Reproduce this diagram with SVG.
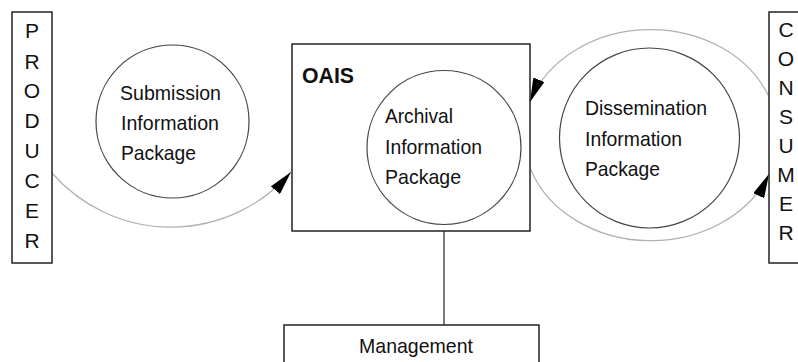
<svg xmlns="http://www.w3.org/2000/svg" width="798" height="362" viewBox="0 0 798 362">
<defs>
<style>
.box{fill:#fff;stroke:#222;stroke-width:1.5}
.pkg{fill:#fff;stroke:#444;stroke-width:1.2}
.flow{fill:none;stroke:#b0b0b0;stroke-width:1.2}
.link{stroke:#333;stroke-width:1.3}
text{font-family:"Liberation Sans",Arial,sans-serif;font-size:21px;fill:#111}
.v{text-anchor:middle;font-size:21px}
.b{font-weight:bold;font-size:22px}
</style>
<marker id="arr" viewBox="0 0 24 12" refX="24" refY="6" markerWidth="24" markerHeight="12" markerUnits="userSpaceOnUse" orient="auto">
<path d="M0,0 L24,6 L0,12 z" fill="#000"/>
</marker>
</defs>
<rect width="798" height="362" fill="#fff"/>
<g id="connectors">
<path class="flow" d="M52,173 A158,158 0 0 0 291,172" marker-end="url(#arr)"/>
<path class="flow" d="M769,97 A127,105.5 0 0 0 530,102" marker-end="url(#arr)"/>
<path class="flow" d="M531,170 A127,105.5 0 0 0 769,174" marker-end="url(#arr)"/>
<line class="link" x1="444" y1="231" x2="444" y2="325"/>
</g>
<g id="producer">
<rect class="box" x="12" y="12" width="40" height="251"/>
<text class="v" x="32" y="38">P</text>
<text class="v" x="32" y="69">R</text>
<text class="v" x="32" y="98">O</text>
<text class="v" x="32" y="128">D</text>
<text class="v" x="32" y="158">U</text>
<text class="v" x="32" y="188">C</text>
<text class="v" x="32" y="218">E</text>
<text class="v" x="32" y="248">R</text>
</g>
<g id="sip">
<circle class="pkg" cx="172.5" cy="121.5" r="76.5"/>
<text x="120" y="100" textLength="101" lengthAdjust="spacingAndGlyphs">Submission</text>
<text x="121" y="130" textLength="98" lengthAdjust="spacingAndGlyphs">Information</text>
<text x="121" y="160" textLength="75" lengthAdjust="spacingAndGlyphs">Package</text>
</g>
<g id="oais">
<rect class="box" x="292" y="44" width="238" height="187"/>
<text class="b" x="302" y="83" textLength="52" lengthAdjust="spacingAndGlyphs">OAIS</text>
</g>
<g id="aip">
<circle class="pkg" cx="444" cy="147.5" r="77"/>
<text x="385" y="123" textLength="68" lengthAdjust="spacingAndGlyphs">Archival</text>
<text x="385" y="154" textLength="97" lengthAdjust="spacingAndGlyphs">Information</text>
<text x="385" y="184" textLength="76" lengthAdjust="spacingAndGlyphs">Package</text>
</g>
<g id="dip">
<circle class="pkg" cx="649.5" cy="138" r="90"/>
<text x="585" y="115" textLength="122" lengthAdjust="spacingAndGlyphs">Dissemination</text>
<text x="585" y="146" textLength="97" lengthAdjust="spacingAndGlyphs">Information</text>
<text x="585" y="176" textLength="75" lengthAdjust="spacingAndGlyphs">Package</text>
</g>
<g id="consumer">
<rect class="box" x="769" y="12" width="40" height="251"/>
<text class="v" x="786" y="37">C</text>
<text class="v" x="786" y="66">O</text>
<text class="v" x="786" y="95">N</text>
<text class="v" x="786" y="124">S</text>
<text class="v" x="786" y="153">U</text>
<text class="v" x="786" y="182">M</text>
<text class="v" x="786" y="211">E</text>
<text class="v" x="786" y="240">R</text>
</g>
<g id="management">
<rect class="box" x="284" y="325" width="255" height="50"/>
<text x="359" y="353" textLength="114" lengthAdjust="spacingAndGlyphs">Management</text>
</g>
</svg>
